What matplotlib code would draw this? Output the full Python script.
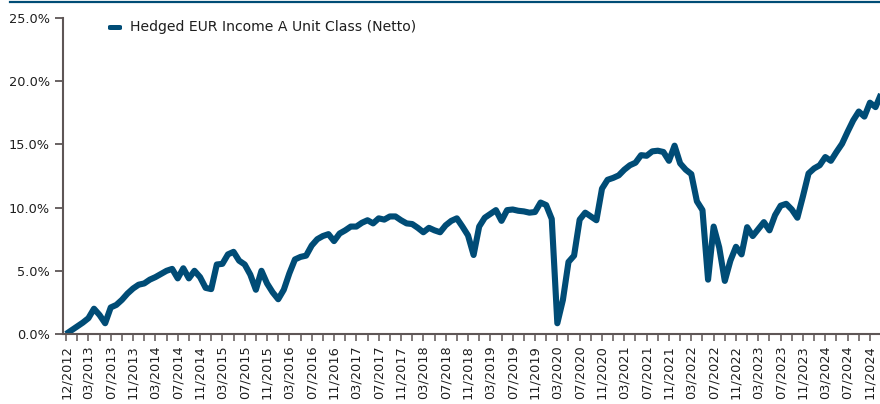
import matplotlib
matplotlib.use("Agg")
import matplotlib.pyplot as plt
from matplotlib.lines import Line2D
from matplotlib.patches import FancyBboxPatch
from matplotlib.ticker import FixedLocator, FuncFormatter

series_name = "Hedged EUR Income A Unit Class (Netto)"

# cumulative performance in %, one point per period (start 12/2012, then month ends)
values = [
    0.0, 0.3, 0.6, 0.9, 1.25, 2.0, 1.5, 0.85, 2.1, 2.3,
    2.7, 3.2, 3.6, 3.9, 4.0, 4.3, 4.5, 4.75, 5.0, 5.15,
    4.4, 5.2, 4.4, 5.0, 4.5, 3.65, 3.55, 5.5, 5.55, 6.3,
    6.5, 5.8, 5.5, 4.7, 3.5, 5.0, 4.0, 3.3, 2.75, 3.5,
    4.8, 5.9, 6.1, 6.2, 7.0, 7.5, 7.75, 7.9, 7.35, 7.95,
    8.2, 8.5, 8.5, 8.8, 9.0, 8.75, 9.15, 9.05, 9.3, 9.3,
    9.0, 8.75, 8.7, 8.4, 8.05, 8.4, 8.2, 8.05, 8.6, 8.95,
    9.15, 8.5, 7.8, 6.25, 8.5, 9.2, 9.5, 9.8, 8.95, 9.8,
    9.85, 9.75, 9.7, 9.6, 9.65, 10.4, 10.2, 9.1, 0.85, 2.7,
    5.7, 6.2, 9.05, 9.6, 9.3, 9.0, 11.5, 12.2, 12.35, 12.55,
    13.0, 13.35, 13.55, 14.15, 14.1, 14.45, 14.5, 14.4, 13.7, 14.9,
    13.5, 13.0, 12.65, 10.5, 9.8, 4.3, 8.5, 6.85, 4.2, 5.8,
    6.9, 6.3, 8.45, 7.75, 8.3, 8.85, 8.2, 9.4, 10.15, 10.3,
    9.85, 9.2, 10.9, 12.7, 13.1, 13.35, 14.0, 13.7, 14.4, 15.05,
    16.0, 16.9, 17.6, 17.2, 18.3, 17.95, 19.0,
]

tick_labels = [
    "12/2012", "03/2013", "07/2013", "11/2013", "03/2014", "07/2014", "11/2014",
    "03/2015", "07/2015", "11/2015", "03/2016", "07/2016", "11/2016",
    "03/2017", "07/2017", "11/2017", "03/2018", "07/2018", "11/2018",
    "03/2019", "07/2019", "11/2019", "03/2020", "07/2020", "11/2020",
    "03/2021", "07/2021", "11/2021", "03/2022", "07/2022", "11/2022",
    "03/2023", "07/2023", "11/2023", "03/2024", "07/2024", "11/2024",
]

y_ticks = [0, 5, 10, 15, 20, 25]

LINE_COLOR = "#004C76"
AXIS_COLOR = "#5E5656"
TEXT_COLOR = "#1E1E1E"

W, H = 880, 404
fig = plt.figure(figsize=(W / 100, H / 100), dpi=100)
ax = fig.add_axes([63 / W, (H - 334) / H, (880 - 63) / W, (334 - 18) / H])

x = list(range(len(values)))
ax.plot(x, values, color=LINE_COLOR, lw=4.4, solid_joinstyle="round",
        solid_capstyle="butt", clip_on=True)

ax.set_xlim(-0.55, 145.8)
ax.set_ylim(0, 25)

major = list(range(0, 4 * len(tick_labels), 4))
minor = list(range(2, 4 * len(tick_labels), 4))
ax.xaxis.set_major_locator(FixedLocator(major))
ax.xaxis.set_minor_locator(FixedLocator(minor))
ax.set_xticklabels(tick_labels, rotation=90, fontsize=9.3, color=TEXT_COLOR)
ax.set_yticks(y_ticks)
ax.yaxis.set_major_formatter(FuncFormatter(lambda v, p: f"{v:.1f}%"))
ax.tick_params(axis="y", labelsize=9.3, labelcolor=TEXT_COLOR, color=AXIS_COLOR,
               length=6, width=1.3, direction="out", pad=3.5)
ax.tick_params(axis="x", which="both", color=AXIS_COLOR, length=5, width=1.1,
               direction="out", pad=3)

for s in ["top", "right"]:
    ax.spines[s].set_visible(False)
for s in ["left", "bottom"]:
    ax.spines[s].set_color(AXIS_COLOR)
    ax.spines[s].set_linewidth(1.5)

# header rule
fig.add_artist(Line2D([10 / W, 1.0], [(H - 2) / H, (H - 2) / H], color=LINE_COLOR,
                      lw=1.6, transform=fig.transFigure))

# legend
fig.add_artist(FancyBboxPatch((108 / W, (H - 30) / H), 14 / W, 5 / H,
                              boxstyle="round,pad=0,rounding_size=0.003",
                              facecolor=LINE_COLOR, edgecolor="none",
                              transform=fig.transFigure))
fig.text(130 / W, (H - 27.5) / H, series_name, fontsize=10.1, color=TEXT_COLOR,
         va="center", ha="left")

fig.savefig("out.png", dpi=100)
